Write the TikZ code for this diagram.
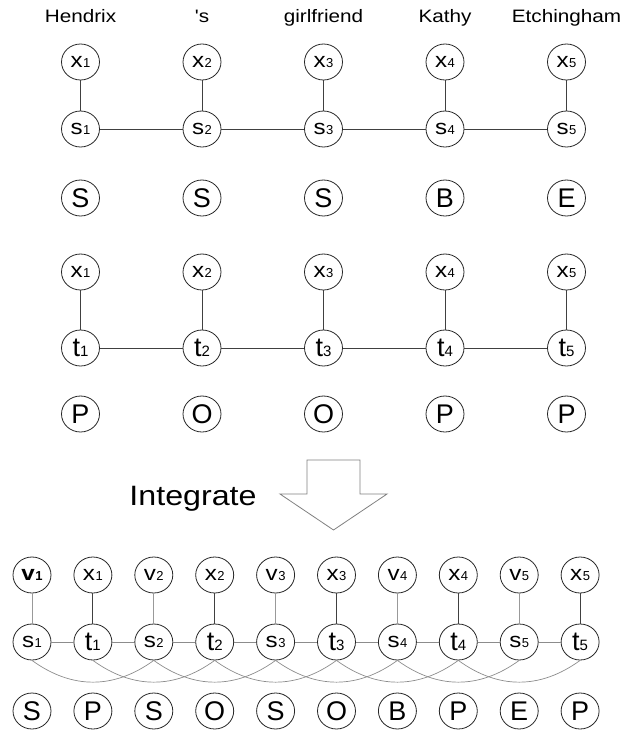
\documentclass[tikz,border=0pt]{standalone}
\usepackage{fontspec}
\setmainfont{Liberation Sans}
\newfontfamily\widefont{Liberation Sans}[FakeStretch=1.15]
\usetikzlibrary{shapes.geometric}
\newcommand\mysub[2]{{\fontsize{21}{21}\selectfont\widefont #1}\hspace{0.5pt}{\fontsize{13}{13}\selectfont #2}}
\newcommand\mytee[1]{{\fontsize{27}{27}\selectfont t}{\fontsize{15}{15}\selectfont #1}}
\newcommand\mybig[1]{{\fontsize{27}{27}\selectfont #1}}
\begin{document}
\begin{tikzpicture}[x=1pt,y=-1pt,
  nd/.style={ellipse,draw=black!85,line width=0.8pt,minimum width=38pt,minimum height=36pt,inner sep=0pt,fill=white},
  word/.style={anchor=base,inner sep=0pt,font=\fontsize{18}{18}\selectfont\widefont},
  ln/.style={draw=black!75,line width=0.9pt},
  lnlight/.style={draw=black!40,line width=0.9pt},
  lnmid/.style={draw=black!45,line width=0.9pt},
  arc/.style={draw=black!45,line width=0.7pt}]
\useasboundingbox (0,0) rectangle (629,734);
% ---------- top section ----------
\foreach \i/\w in {1/Hendrix,2/'s,3/girlfriend,4/Kathy,5/Etchingham}{
  \pgfmathsetmacro\cx{80.5+121.5*(\i-1)}
  \node[word] (w\i) at (\cx,22) {\w};
  \node[nd] (xa\i) at (\cx,62) {\mysub{x}{\i}};
  \node[nd] (s\i) at (\cx,129) {\mysub{s}{\i}};
  \node[nd] (xb\i) at (\cx,272) {\mysub{x}{\i}};
  \node[nd] (t\i) at (\cx,348) {\mytee{\i}};
}
\foreach \i/\l in {1/S,2/S,3/S,4/B,5/E}{
  \pgfmathsetmacro\cx{80.5+121.5*(\i-1)}
  \node[nd] (la\i) at (\cx,198) {\mybig{\l}};
}
\foreach \i/\l in {1/P,2/O,3/O,4/P,5/P}{
  \pgfmathsetmacro\cx{80.5+121.5*(\i-1)}
  \node[nd] (lb\i) at (\cx,414) {\mybig{\l}};
}
\foreach \i in {1,...,5}{
  \draw[ln] (xa\i) -- (s\i);
  \draw[ln] (xb\i) -- (t\i);
}
\foreach \i/\j in {1/2,2/3,3/4,4/5}{
  \draw[ln] (s\i) -- (s\j);
  \draw[ln] (t\i) -- (t\j);
}
% ---------- integrate arrow ----------
\node[anchor=base,inner sep=0pt] (integ) at (193,505) {\fontsize{28}{28}\selectfont\widefont Integrate};
\draw[draw=black!50,fill=white,line width=0.8pt] (307,460) -- (360,460) -- (360,494) -- (387,494) -- (333.5,530) -- (280,494) -- (307,494) -- cycle;
% ---------- bottom section ----------
\foreach \i in {1,...,5}{
  \pgfmathsetmacro\cv{32+121.8*(\i-1)}
  \pgfmathsetmacro\cw{92.9+121.8*(\i-1)}
  \ifnum\i=1
    \node[nd] (bv\i) at (\cv,575) {\bfseries\mysub{v}{\i}};
  \else
    \node[nd] (bv\i) at (\cv,575) {\mysub{v}{\i}};
  \fi
  \node[nd] (bx\i) at (\cw,575) {\mysub{x}{\i}};
  \node[nd] (bs\i) at (\cv,642) {\mysub{s}{\i}};
  \node[nd] (bt\i) at (\cw,642) {\mytee{\i}};
}
\foreach \k/\l in {1/S,2/P,3/S,4/O,5/S,6/O,7/B,8/P,9/E,10/P}{
  \pgfmathsetmacro\cx{32+60.9*(\k-1)}
  \node[nd] (bl\k) at (\cx,711) {\mybig{\l}};
}
\foreach \i in {1,...,5}{
  \draw[lnlight] (bv\i) -- (bs\i);
  \draw[ln] (bx\i) -- (bt\i);
  \draw[lnmid] (bs\i) -- (bt\i);
}
\foreach \i/\j in {1/2,2/3,3/4,4/5}{
  \draw[lnmid] (bt\i) -- (bs\j);
  \draw[arc] (bs\i.south) .. controls +(40,29) and +(-40,29) .. (bs\j.south);
  \draw[arc] (bt\i.south) .. controls +(40,29) and +(-40,29) .. (bt\j.south);
}
\end{tikzpicture}
\end{document}
